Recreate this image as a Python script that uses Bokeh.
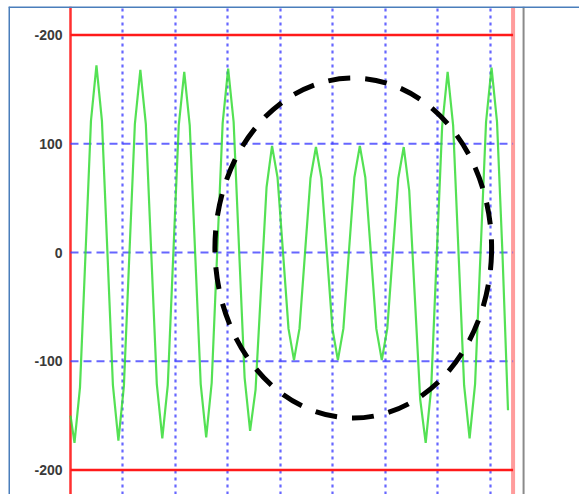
import numpy as np
from bokeh.plotting import figure
from bokeh.models import Range1d, Span, FixedTicker, Grid
from bokeh.embed import file_html
from bokeh.resources import INLINE

# ---- data ----
# y axis ticks and the labels shown next to them
Y_TICKS = [200, 100, 0, -100, -200]
Y_LABELS = ["-200", "100", "0", "-100", "-200"]
# vertical dotted grid positions (in grid divisions)
X_GRID = [1, 2, 3, 4, 5, 6, 7, 8]
# horizontal dashed grid values
H_GRID = [100, 0, -100]
# red limit lines
LIMITS = [200, -200]

# signal: first point at t=0, then regular samples
T_START = 0.0
T_FIRST = 0.0762
T_STEP = 0.10452
SIGNAL = [
    -150,
    -175,
    -124, -2, 121, 172,
    121, 0, -122, -173,
    -123, -2, 118, 168,
    118, -2, -121, -171,
    -122, -2, 117, 166,
    117, -2, -121, -170,
    -120, 0, 119, 169,
    120, 2, -115, -164,
    -126, -33, 60, 98,
    69, 0, -70, -99,
    -70, -1, 68, 97,
    68, -1, -70, -99,
    -70, 0, 69, 98,
    69, 0, -70, -99,
    -70, -1, 68, 97,
    57, -39, -135, -175,
    -125, -4, 116, 166,
    117, -2, -122, -171,
    -121, 0, 120, 170,
    120, -2, -145,
]
# highlight ellipse (centre, width, height in data units)
ELL_X, ELL_Y, ELL_W, ELL_H = 5.386, 4.1, 5.27, 312.6

X_RIGHT = 8.43   # right red border
X_GRAY = 8.63    # grey separator

t = np.concatenate([[T_START], T_FIRST + T_STEP * np.arange(len(SIGNAL) - 1)])

p = figure(width=579, height=494, output_backend="svg", toolbar_location=None,
           x_range=Range1d(-1.18095, 9.69524), y_range=Range1d(-222.53, 226.21),
           min_border_left=8, min_border_top=6, min_border_right=0, min_border_bottom=0,
           x_axis_location=None, y_axis_location="left")
p.outline_line_color = None
p.background_fill_color = "white"
p.border_fill_color = "white"

for g in p.xgrid:
    g.visible = False
for g in p.ygrid:
    g.visible = False

# y axis drawn at x = 0 (left red border)
ax = p.yaxis[0]
ax.ticker = FixedTicker(ticks=Y_TICKS)
ax.major_label_overrides = dict(zip(Y_TICKS, Y_LABELS))
ax.fixed_location = 0
ax.axis_line_color = None
ax.major_tick_line_color = None
ax.minor_tick_line_color = None
ax.major_label_standoff = 2
ax.major_label_text_font = "Liberation Sans"
ax.major_label_text_font_size = "14px"
ax.major_label_text_font_style = "bold"
ax.major_label_text_color = "#3a3a3a"

# vertical dotted grid
vg = Grid(dimension=0, ticker=FixedTicker(ticks=X_GRID),
          grid_line_color="#4040ff", grid_line_alpha=0.8, grid_line_width=2.2,
          grid_line_dash="3 4")
p.add_layout(vg)

# horizontal dashed grid
p.segment(x0=[0] * len(H_GRID), y0=H_GRID, x1=[X_RIGHT] * len(H_GRID), y1=H_GRID,
          line_color="#4040ff", line_alpha=0.8, line_width=2, line_dash="8 5")

# red limits
p.segment(x0=[0] * len(LIMITS), y0=LIMITS, x1=[X_RIGHT] * len(LIMITS), y1=LIMITS,
          line_color="#ff1a1a", line_width=2.5)
p.add_layout(Span(location=0, dimension="height", line_color="#ff3030",
                  line_width=2.5, level="underlay"))
p.add_layout(Span(location=X_RIGHT, dimension="height", line_color="#ff9c9c",
                  line_width=4, level="underlay"))
p.add_layout(Span(location=X_GRAY, dimension="height", line_color="#8a8a8a",
                  line_width=2, level="underlay"))

# signal
p.line(t, SIGNAL, line_color="#36dc36", line_width=2.2, line_alpha=0.85)

# highlight ellipse
p.ellipse(x=[ELL_X], y=[ELL_Y], width=[ELL_W], height=[ELL_H],
          fill_color=None, line_color="black", line_width=5, line_dash="22 15")

# blue frame of the screenshot
p.add_layout(Span(location=-1.18095, dimension="height", line_color="#4a7ebb",
                  line_width=3))
p.add_layout(Span(location=226.21, dimension="width", line_color="#4a7ebb",
                  line_width=3))

open("out.html", "w").write(file_html(p, INLINE))
